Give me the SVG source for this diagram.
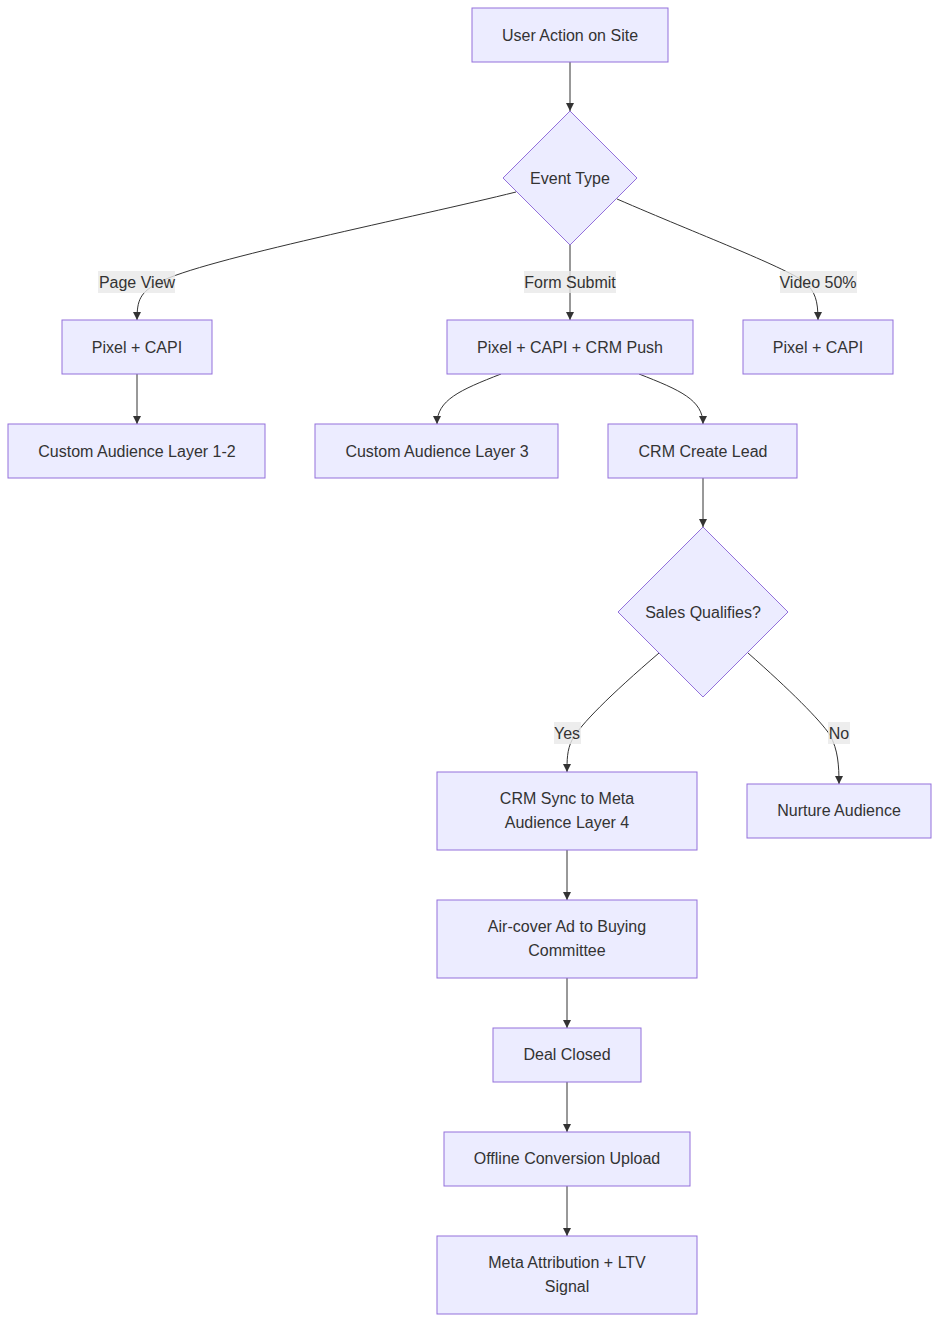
<svg xmlns="http://www.w3.org/2000/svg" width="939" height="1321" viewBox="0 0 939 1321">
<style>
.n{fill:#ECECFF;stroke:#9370DB;stroke-width:1}
.t{font-family:"Liberation Sans",Arial,sans-serif;font-size:16px;fill:#333;text-anchor:middle;dominant-baseline:central}
.e{fill:none;stroke:#333;stroke-width:1}
.lb{fill:#e8e8e8;opacity:0.8}
</style>
<defs><marker id="a" viewBox="0 0 10 10" refX="10" refY="5" markerWidth="8" markerHeight="8" orient="auto"><path d="M0,0L10,5L0,10z" fill="#333"/></marker></defs>
<rect width="939" height="1321" fill="#fff"/>
<g id="edges">
<path class="e" marker-end="url(#a)" d="M570,62V111"/>
<path class="e" marker-end="url(#a)" d="M516,192C420,216 200,260 160,282C140,292 137,300 137,320"/>
<path class="e" marker-end="url(#a)" d="M570,245V320"/>
<path class="e" marker-end="url(#a)" d="M617,199C700,235 780,265 805,282C815,292 818,300 818,320"/>
<path class="e" marker-end="url(#a)" d="M137,374V424"/>
<path class="e" marker-end="url(#a)" d="M501,374C460,390 437,400 437,424"/>
<path class="e" marker-end="url(#a)" d="M639,374C680,390 703,400 703,424"/>
<path class="e" marker-end="url(#a)" d="M703,478V527"/>
<path class="e" marker-end="url(#a)" d="M659,653C610,695 580,725 572,740C567,750 567,760 567,772"/>
<path class="e" marker-end="url(#a)" d="M748,653C790,690 820,720 830,735C838,750 839,765 839,784"/>
<path class="e" marker-end="url(#a)" d="M567,850V900"/>
<path class="e" marker-end="url(#a)" d="M567,978V1028"/>
<path class="e" marker-end="url(#a)" d="M567,1082V1132"/>
<path class="e" marker-end="url(#a)" d="M567,1186V1236"/>
<rect class="lb" x="98" y="271" width="77" height="22"/><text class="t" x="137" y="282">Page View</text>
<rect class="lb" x="524" y="271" width="92" height="22"/><text class="t" x="570" y="282">Form Submit</text>
<rect class="lb" x="780" y="271" width="77" height="22"/><text class="t" x="818" y="282">Video 50%</text>
<rect class="lb" x="554" y="722" width="27" height="22"/><text class="t" x="567" y="733">Yes</text>
<rect class="lb" x="828" y="722" width="22" height="22"/><text class="t" x="839" y="733">No</text>
</g>
<g id="n1"><rect class="n" x="472" y="8" width="196" height="54"/><text class="t" x="570" y="35">User Action on Site</text></g>
<g id="n2"><polygon class="n" points="570,111 637,178 570,245 503,178"/><text class="t" x="570" y="178">Event Type</text></g>
<g id="n3"><rect class="n" x="62" y="320" width="150" height="54"/><text class="t" x="137" y="347">Pixel + CAPI</text></g>
<g id="n4"><rect class="n" x="447" y="320" width="246" height="54"/><text class="t" x="570" y="347">Pixel + CAPI + CRM Push</text></g>
<g id="n5"><rect class="n" x="743" y="320" width="150" height="54"/><text class="t" x="818" y="347">Pixel + CAPI</text></g>
<g id="n6"><rect class="n" x="8" y="424" width="257" height="54"/><text class="t" x="137" y="451">Custom Audience Layer 1-2</text></g>
<g id="n7"><rect class="n" x="315" y="424" width="243" height="54"/><text class="t" x="437" y="451">Custom Audience Layer 3</text></g>
<g id="n8"><rect class="n" x="608" y="424" width="189" height="54"/><text class="t" x="703" y="451">CRM Create Lead</text></g>
<g id="n9"><polygon class="n" points="703,527 788,612 703,697 618,612"/><text class="t" x="703" y="612">Sales Qualifies?</text></g>
<g id="n10"><rect class="n" x="437" y="772" width="260" height="78"/><text class="t" x="567" y="798">CRM Sync to Meta</text><text class="t" x="567" y="822">Audience Layer 4</text></g>
<g id="n11"><rect class="n" x="747" y="784" width="184" height="54"/><text class="t" x="839" y="810">Nurture Audience</text></g>
<g id="n12"><rect class="n" x="437" y="900" width="260" height="78"/><text class="t" x="567" y="926">Air-cover Ad to Buying</text><text class="t" x="567" y="950">Committee</text></g>
<g id="n13"><rect class="n" x="493" y="1028" width="148" height="54"/><text class="t" x="567" y="1054">Deal Closed</text></g>
<g id="n14"><rect class="n" x="444" y="1132" width="246" height="54"/><text class="t" x="567" y="1158">Offline Conversion Upload</text></g>
<g id="n15"><rect class="n" x="437" y="1236" width="260" height="78"/><text class="t" x="567" y="1262">Meta Attribution + LTV</text><text class="t" x="567" y="1286">Signal</text></g>
</svg>
